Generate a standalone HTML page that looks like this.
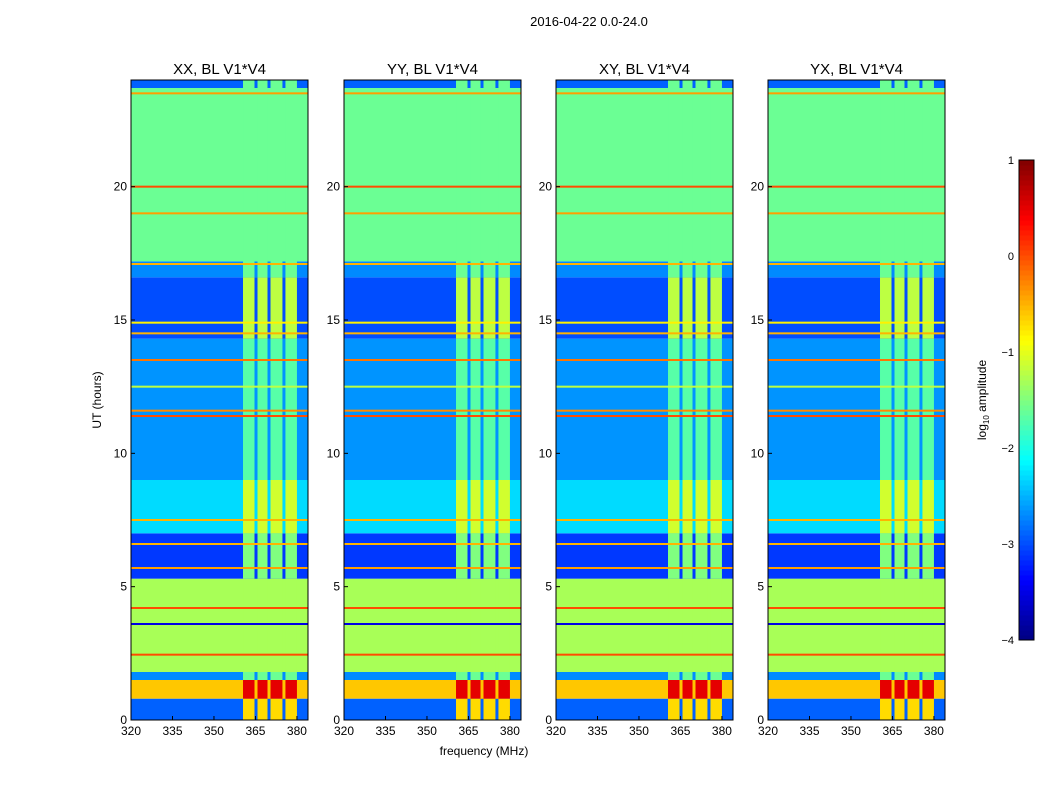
<!DOCTYPE html>
<html><head><meta charset="utf-8">
<style>
html,body{margin:0;padding:0;background:#fff;}
svg{display:block;font-family:"Liberation Sans",sans-serif;}
</style></head>
<body>
<svg id="fig" width="1050" height="800" viewBox="0 0 1050 800">
<rect width="1050" height="800" fill="#fff"/>
<text x="589" y="26" font-size="13" text-anchor="middle">2016-04-22 0.0-24.0</text>
<text x="484" y="755" font-size="12" text-anchor="middle">frequency (MHz)</text>
<text transform="translate(101,400) rotate(-90)" font-size="12" text-anchor="middle">UT (hours)</text>
<g id="panels"></g>
<g id="cbar"></g>
</svg>
<script>
// ---- data ----
const panelTitles = ["XX, BL V1*V4","YY, BL V1*V4","XY, BL V1*V4","YX, BL V1*V4"];
const segStart = [0, 0.8, 1.5, 1.8, 5.3, 7.0, 9.0, 14.3, 16.6, 17.2, 23.7];
const segEnd   = [0.8, 1.5, 1.8, 5.3, 7.0, 9.0, 14.3, 16.6, 17.2, 23.7, 24];
const segBase  = [-2.9, -0.6, -2.7, -1.3, -3.1, -2.3, -2.65, -3.0, -2.7, -1.6, -2.9];
const segHigh  = [-0.7, 0.5, -1.6, -1.3, -1.5, -1.1, -1.7, -1.2, -1.6, -1.6, -1.6];
const lineHours = [2.45, 3.6, 4.2, 5.7, 6.6, 7.5, 11.4, 11.6, 12.5, 13.5, 14.5, 14.9, 17.1, 19.0, 20.0, 23.5];
const lineVals  = [0.0, -3.5, 0.0, -0.4, -0.5, -0.5, 0.0, -0.3, -1.2, -0.2, -0.5, -0.8, -0.5, -0.4, 0.0, -0.4];
const gapFreqs = [365.2, 369.9, 375.3];
const xTicks = [320, 335, 350, 365, 380];
const yTicks = [0, 5, 10, 15, 20];
const cbarTicks = [1, 0, -1, -2, -3, -4];
const hiBandStart = 360.5, hiBandEnd = 380;

const NS = "http://www.w3.org/2000/svg";
const panelLefts = [131, 344, 556, 768], panelW = 177, pTop = 80, pBot = 720;
const fMin = 320, fMax = 384, tMin = 0, tMax = 24;
function jet(v){
  let t = Math.max(0, Math.min(1, (v + 4) / 5));
  const r = Math.max(0, Math.min(1, 1.5 - Math.abs(4*t - 3)));
  const g = Math.max(0, Math.min(1, 1.5 - Math.abs(4*t - 2)));
  const b = Math.max(0, Math.min(1, 1.5 - Math.abs(4*t - 1)));
  return `rgb(${Math.round(r*255)},${Math.round(g*255)},${Math.round(b*255)})`;
}
function mk(tag, attrs, parent){ const e = document.createElementNS(NS, tag); for (const k in attrs) e.setAttribute(k, attrs[k]); parent.appendChild(e); return e; }
const yS = t => pBot - (t - tMin) / (tMax - tMin) * (pBot - pTop);
const panelsG = document.getElementById("panels");
panelLefts.forEach((L, p) => {
  const xS = f => L + (f - fMin) / (fMax - fMin) * panelW;
  const g = mk("g", {}, panelsG);
  
  
  for (let i = 0; i < segStart.length; i++) {
    const y1 = yS(segEnd[i]), y2 = yS(segStart[i]);
    const r1 = mk("rect", {x: L, y: y1, width: panelW, height: y2 - y1, fill: jet(segBase[i])}, g);
    
    
    const r2 = mk("rect", {x: xS(hiBandStart), y: y1, width: xS(hiBandEnd) - xS(hiBandStart), height: y2 - y1, fill: jet(segHigh[i])}, g);
    
    
    gapFreqs.forEach(f => {
      const v = mk("rect", {x: xS(f) - 1.5, y: y1, width: 3, height: y2 - y1, fill: jet(segBase[i])}, g);
      
      
    });
  }
  lineHours.forEach((h, i) => {
    const l = mk("rect", {x: L, y: yS(h) - 1, width: panelW, height: 2, fill: jet(lineVals[i])}, g);
    
    
  });
  const fr = mk("rect", {x: L, y: pTop, width: panelW, height: pBot - pTop, fill: "none", stroke: "#000", "stroke-width": 1}, g);
  
  
  const tt = mk("text", {x: L + panelW/2, y: 74, "font-size": 15, "text-anchor": "middle"}, g);
  tt.textContent = panelTitles[p];
  
  
  xTicks.forEach(f => {
    mk("line", {x1: xS(f), x2: xS(f), y1: pBot, y2: pBot - 4, stroke: "#000"}, g);
    const t = mk("text", {x: xS(f), y: pBot + 15, "font-size": 12, "text-anchor": "middle"}, g);
    t.textContent = f;
    
    
  });
  yTicks.forEach(h => {
    mk("line", {x1: L, x2: L + 4, y1: yS(h), y2: yS(h), stroke: "#000"}, g);
    const t = mk("text", {x: L - 4, y: yS(h) + 4, "font-size": 12, "text-anchor": "end"}, g);
    t.textContent = h;
    
    
  });
});
const cb = document.getElementById("cbar");


const cbX = 1019, cbW = 15, cbTop = 160, cbBot = 640;
const cS = v => cbBot - (v + 4) / 5 * (cbBot - cbTop);
for (let k = 0; k < 96; k++) {
  const v = -4 + 5 * k / 96;
  mk("rect", {x: cbX, y: cS(v + 5/96), width: cbW, height: (cbBot - cbTop)/96 + 0.5, fill: jet(v + 2.5/96)}, cb);
}
mk("rect", {x: cbX, y: cbTop, width: cbW, height: cbBot - cbTop, fill: "none", stroke: "#000"}, cb);
cbarTicks.forEach(v => {
  const t = mk("text", {x: cbX - 5, y: cS(v) + 4, "font-size": 11, "text-anchor": "end"}, cb);
  t.textContent = v < 0 ? "\u2212" + (-v) : String(v);
  
  
});
const cl = mk("text", {transform: "translate(986,400) rotate(-90)", "font-size": 12, "text-anchor": "middle"}, cb);
cl.innerHTML = 'log<tspan font-size="8" dy="3">10</tspan><tspan dy="-3"> amplitude</tspan>';


</script>
</body></html>
